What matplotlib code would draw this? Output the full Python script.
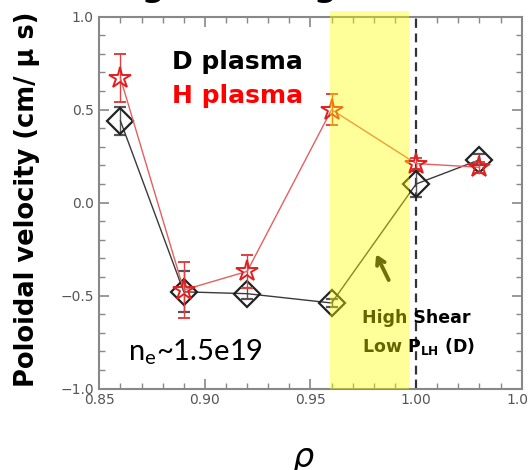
import matplotlib
matplotlib.use("Agg")
import matplotlib.pyplot as plt
from matplotlib.ticker import MultipleLocator, FixedLocator

rho = [0.86, 0.89, 0.92, 0.96, 1.00, 1.03]
v_D = [0.44, -0.48, -0.49, -0.54, 0.10, 0.23]
e_D = [0.075, 0.11, 0.03, 0.02, 0.07, 0.03]
v_H = [0.67, -0.47, -0.37, 0.50, 0.21, 0.19]
e_H = [0.13, 0.15, 0.09, 0.083, 0.03, 0.03]
xticks = [0.85, 0.90, 0.95, 1.00, 1.05]
xticklabels = ["0.85", "0.90", "0.95", "1.00", "1.05"]
yticks = [-1.0, -0.5, 0.0, 0.5, 1.0]
yticklabels = ["\u22121.0", "\u22120.5", "0.0", "0.5", "1.0"]
band = (0.959, 0.9965)
sep_x = 1.00

fig = plt.figure(figsize=(5.29, 4.70), dpi=100)
ax = fig.add_axes([0.1877, 0.1734, 0.7985, 0.7911])

ax.set_xlim(0.85, 1.05)
ax.set_ylim(-1.0, 1.0)

ax.errorbar(rho, v_D, yerr=e_D, color='#3a3a3a', lw=1.0, marker='D', ms=13,
            mfc='none', mec='#222222', mew=1.6, ecolor='#555555', elinewidth=1.0,
            capsize=4, capthick=1.0, zorder=3)
ax.errorbar(rho, v_H, yerr=e_H, color='#e46060', lw=1.0, marker='*', ms=16,
            mfc='none', mec='#e02020', mew=1.4, ecolor='#e04040', elinewidth=1.0,
            capsize=4, capthick=1.0, zorder=4)

ax.axvline(sep_x, color='#333333', lw=1.6, ls=(0, (4, 2.5)), zorder=2)

ax.text(0.8844, 0.756, "D plasma", color='black', fontsize=18, fontweight='bold',
        va='center', ha='left')
ax.text(0.8844, 0.574, "H plasma", color='#ff0000', fontsize=18, fontweight='bold',
        va='center', ha='left')
ax.text(0.8636, -0.846, r"n$_\mathregular{e}$~1.5e19", color='black', fontsize=21,
        family='Lato', va='baseline', ha='left')
ax.text(0.9744, -0.62, "High Shear", color='black', fontsize=12.5, fontweight='bold',
        va='center', ha='left')
ax.text(0.9744, -0.776, r"Low P$_\mathbf{LH}$ (D)", color='black', fontsize=12.5,
        fontweight='bold', va='center', ha='left')

ax.annotate("", xy=(0.9805, -0.265), xytext=(0.9876, -0.43),
            arrowprops=dict(arrowstyle='->,head_length=0.5,head_width=0.3',
                            color='#111111', lw=2.8), zorder=5)

ax.axvspan(band[0], band[1], ymin=0.0, ymax=1.016, color='#ffff00', alpha=0.4,
           lw=0, zorder=10, clip_on=False)

ax.xaxis.set_major_locator(FixedLocator(xticks))
ax.set_xticklabels(xticklabels)
ax.xaxis.set_minor_locator(MultipleLocator(0.01))
ax.yaxis.set_major_locator(FixedLocator(yticks))
ax.set_yticklabels(yticklabels)
ax.yaxis.set_minor_locator(MultipleLocator(0.1))
ax.tick_params(which='both', direction='in', top=True, right=True, color='#888888',
               labelcolor='#555555', labelsize=10)
ax.tick_params(which='major', length=7, width=1.2)
ax.tick_params(which='minor', length=4, width=1.0)
ax.tick_params(axis='x', pad=3)
ax.tick_params(axis='y', pad=4)
for s in ax.spines.values():
    s.set_color('#888888')
    s.set_linewidth(1.5)

ax.set_ylabel("Poloidal velocity (cm/ \u03bc s)", fontsize=18.5, fontweight='bold')
ax.yaxis.set_label_coords(-0.140, 0.509)

fig.text(0.573, 12 / 470, "\u03c1", fontsize=24, style='italic', ha='center',
         va='center')
fig.text(0.078, 1.008, "Strong shearing", fontsize=23.5, fontweight='bold',
         ha='left', va='baseline')

fig.savefig("out.png", dpi=100)
